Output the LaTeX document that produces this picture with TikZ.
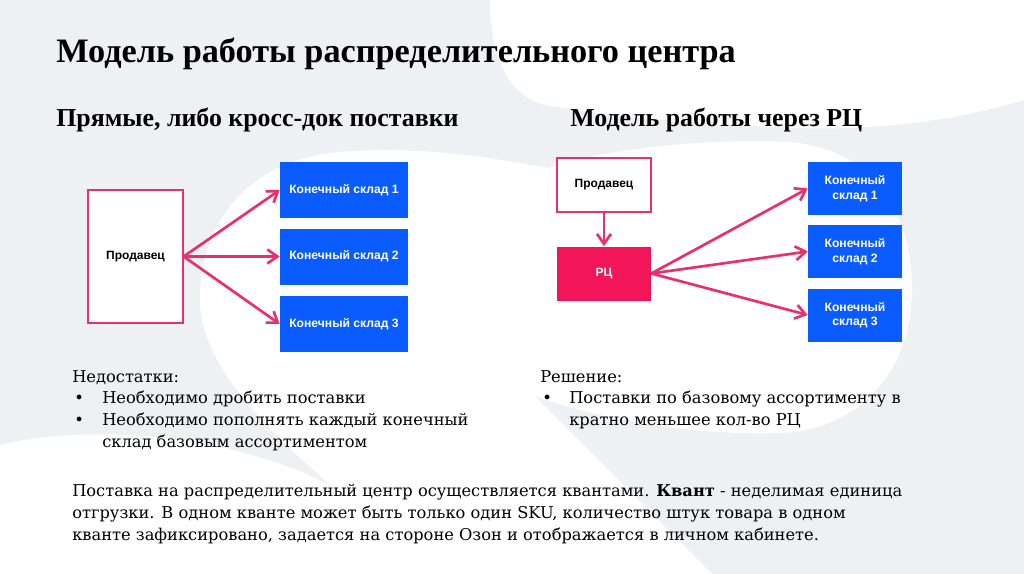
\documentclass[tikz,border=0pt]{standalone}
\usepackage{fontspec}
\setmainfont{DejaVu Serif}
\newfontfamily\headfont{Liberation Serif}
\newfontfamily\boxfont{Liberation Sans}
\usetikzlibrary{arrows.meta}
\definecolor{bggray}{HTML}{EEF1F4}
\definecolor{pinkline}{HTML}{E8306C}
\definecolor{rcred}{HTML}{F2155A}
\definecolor{boxblue}{HTML}{0A5CFF}
\begin{document}
\begin{tikzpicture}[x=0.75pt,y=-0.75pt,
  sellerbox/.style={draw=pinkline, line width=1pt, fill=white, inner sep=0pt, text=black,
    font=\boxfont\bfseries\fontsize{9}{10}\selectfont},
  rcbox/.style={fill=rcred, inner sep=0pt, text=white,
    font=\boxfont\bfseries\fontsize{9}{10}\selectfont},
  bluebox/.style={fill=boxblue, inner sep=0pt, text=white, align=center,
    font=\boxfont\bfseries\fontsize{9.1}{10.9}\selectfont},
  pinkarrow/.style={draw=pinkline, line width=2pt, -{Straight Barb[length=7.5pt,width=10.5pt]}},
  titletext/.style={anchor=base west, inner sep=0pt, font=\headfont\bfseries\fontsize{25.7}{31}\selectfont},
  subtext/.style={anchor=base west, inner sep=0pt, font=\headfont\bfseries\fontsize{19.4}{23}\selectfont},
  body/.style={anchor=base west, inner sep=0pt, font=\fontsize{12.2}{15}\selectfont},
]
% background
\fill[bggray] (0,0) rectangle (1024,574);
\useasboundingbox (0,0) rectangle (1024,574);
\fill[white] (490,0) -- (1024,0) -- (1024,100)
  .. controls (940,125) and (860,130) .. (800,128)
  .. controls (700,125) and (600,115) .. (545,105)
  .. controls (505,95) and (490,50) .. (490,0) -- cycle;
\fill[white] (330,485)
  .. controls (280,440) and (200,370) .. (200,300)
  .. controls (200,220) and (250,160) .. (340,152)
  .. controls (430,145) and (500,160) .. (550,168)
  .. controls (600,150) and (700,138) .. (790,142)
  .. controls (880,150) and (912,220) .. (912,290)
  .. controls (912,370) and (860,430) .. (780,433)
  .. controls (700,436) and (600,420) .. (535,396)
  -- (712,574) -- (0,574) -- (0,445)
  .. controls (80,425) and (220,430) .. (330,485) -- cycle;

% headings
\node[titletext] (title) at (56,63) {Модель работы распределительного центра};
\node[subtext] (subL) at (56,127) {Прямые, либо кросс-док поставки};
\node[subtext] (subR) at (570,127) {Модель работы через РЦ};

% left diagram
\node[sellerbox, minimum width=71.25pt, minimum height=99.75pt] (sL) at (135.5,256.5) {Продавец};
\node[bluebox, minimum width=96pt, minimum height=42pt] (bL1) at (344,190) {Конечный склад 1};
\node[bluebox, minimum width=96pt, minimum height=42pt] (bL2) at (344,256.5) {Конечный склад 2};
\node[bluebox, minimum width=96pt, minimum height=42pt] (bL3) at (344,324) {Конечный склад 3};
\draw[pinkarrow] (sL.east) -- (bL1.west);
\draw[pinkarrow] (sL.east) -- (bL2.west);
\draw[pinkarrow] (sL.east) -- (bL3.west);

% right diagram
\node[sellerbox, minimum width=70.5pt, minimum height=40.5pt] (sR) at (604,185) {Продавец};
\node[rcbox, minimum width=70.5pt, minimum height=40.5pt] (rc) at (604,273.5) {РЦ};
\node[bluebox, minimum width=70.5pt, minimum height=39.75pt] (bR1) at (855,188.5) {Конечный\\склад 1};
\node[bluebox, minimum width=70.5pt, minimum height=39.75pt] (bR2) at (855,251.5) {Конечный\\склад 2};
\node[bluebox, minimum width=70.5pt, minimum height=39.75pt] (bR3) at (855,315) {Конечный\\склад 3};
\draw[pinkarrow] (sR.south) -- (rc.north);
\draw[pinkarrow] (rc.east) -- (bR1.west);
\draw[pinkarrow] (rc.east) -- (bR2.west);
\draw[pinkarrow] (rc.east) -- (bR3.west);

% left text
\node[body] (nd) at (72,382) {Недостатки:};
\node[body] (bu1) at (74,403) {•};
\node[body] (l1) at (102,403) {Необходимо дробить поставки};
\node[body] (bu2) at (74,425) {•};
\node[body] (l2) at (102,425) {Необходимо пополнять каждый конечный};
\node[body] (l3) at (102,447) {склад базовым ассортиментом};

% right text
\node[body] (rs) at (540,382) {Решение:};
\node[body] (bu3) at (542,403) {•};
\node[body] (r1) at (569,403) {Поставки по базовому ассортименту в};
\node[body] (r2) at (569,425) {кратно меньшее кол-во РЦ};

% bottom paragraph
\node[body] (p1) at (72,496) {Поставка на распределительный центр осуществляется квантами. \textbf{Квант} - неделимая единица};
\node[body] (p2) at (72,518) {отгрузки. В одном кванте может быть только один SKU, количество штук товара в одном};
\node[body] (p3) at (72,540) {кванте зафиксировано, задается на стороне Озон и отображается в личном кабинете.};
\end{tikzpicture}
\end{document}
